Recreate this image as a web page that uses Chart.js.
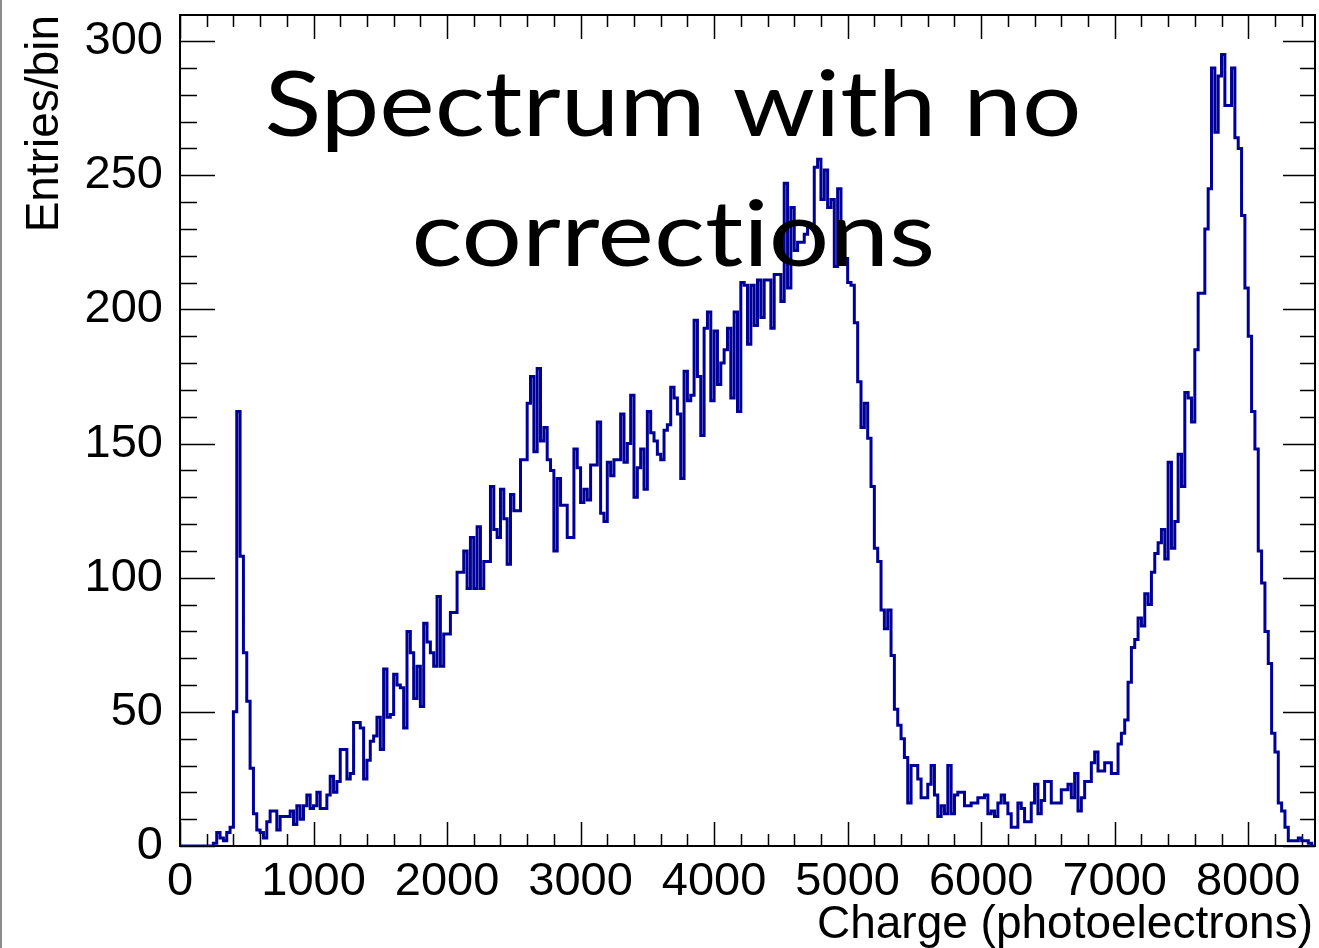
<!DOCTYPE html>
<html><head><meta charset="utf-8">
<script src="https://cdn.jsdelivr.net/npm/chart.js@4.4.1/dist/chart.umd.min.js"></script>
<style>html,body{margin:0;padding:0;background:#fff;overflow:hidden}canvas{display:block}</style>
</head><body>
<canvas id="c" width="1319" height="948"></canvas>
<script>
// ---- data (histogram, 25 p.e. bins from 0 to 8500) ----
const binLow = 0;
const binWidth = 25;
const counts = [
  0,0,0,0,0,0,0,0,0,0,
  1,5,3,2,5,7,50,162,108,72,
  54,29,12,6,5,3,9,13,13,6,
  11,11,11,13,8,15,10,15,19,14,
  15,20,14,14,19,26,20,24,36,36,
  25,27,46,46,44,25,32,39,41,48,
  36,66,48,49,64,60,59,44,80,72,
  55,67,52,83,76,72,67,93,67,79,
  79,87,87,102,102,110,96,115,96,119,
  96,106,106,134,118,115,133,122,105,131,
  125,125,144,144,165,175,147,178,151,156,
  144,140,110,137,127,127,115,115,148,141,
  128,133,129,142,142,158,124,121,143,138,
  144,144,161,143,150,168,130,141,148,133,
  162,154,151,146,144,155,157,171,167,161,
  137,177,166,168,196,175,153,193,199,166,
  192,172,180,185,193,167,199,162,210,209,
  187,209,194,211,197,211,211,193,213,213,
  203,247,208,238,222,225,225,228,231,231,
  253,256,241,252,238,241,216,245,223,219,
  210,209,195,173,156,165,152,134,111,106,
  88,81,88,71,51,45,40,33,16,30,
  30,25,18,18,23,30,19,11,15,12,
  30,12,19,20,20,15,15,16,16,18,
  18,19,12,13,11,16,19,16,12,7,
  7,16,14,9,9,16,23,12,17,24,
  24,16,16,16,21,21,23,18,27,13,
  18,24,24,31,35,28,28,31,31,27,
  27,38,42,47,61,74,77,85,82,94,
  90,102,109,113,118,107,143,111,121,146,
  134,169,167,158,185,206,206,230,245,290,
  266,287,295,276,276,290,264,260,235,208,
  190,162,148,110,98,80,68,42,35,16,
  13,7,2,2,2,3,2,2,1,0
];
const xTickValues = [0,1000,2000,3000,4000,5000,6000,7000,8000];
const xTickLabels = ['0','1000','2000','3000','4000','5000','6000','7000','8000'];
const yTickValues = [0,50,100,150,200,250,300];
const yTickLabels = ['0','50','100','150','200','250','300'];
const titleLines = ['Spectrum with no', 'corrections'];
const xTitle = 'Charge (photoelectrons)';
const yTitle = 'Entries/bin';
const xRange = [0, 8500];
const yRange = [0, 309.75];

// histogram outline points (bin low edges + closing edge)
const points = counts.map((c, i) => ({x: binLow + i * binWidth, y: c}));
points.push({x: binLow + counts.length * binWidth, y: counts[counts.length - 1]});

const SANS = '"Liberation Sans", Arial, Helvetica, sans-serif';
const TITLE_FONT = 'Lato, "Open Sans", sans-serif';

function drawFitted(ctx, text, left, right, baseline, capH) {
  ctx.save();
  try { ctx.textRendering = 'optimizeSpeed'; } catch (e) {}
  try { ctx.letterSpacing = '0.01px'; } catch (e) {}
  ctx.font = '100px ' + TITLE_FONT;
  const ref = ctx.measureText('H').actualBoundingBoxAscent || 72;
  const size = 100 * capH / ref;
  ctx.font = size.toFixed(2) + 'px ' + TITLE_FONT;
  const m = ctx.measureText(text);
  const w = m.actualBoundingBoxLeft + m.actualBoundingBoxRight;
  const sx = (right - left) / w;
  ctx.translate(left, baseline);
  ctx.scale(sx, 1);
  ctx.textAlign = 'left';
  ctx.textBaseline = 'alphabetic';
  ctx.fillStyle = '#000';
  ctx.fillText(text, m.actualBoundingBoxLeft, 0);
  ctx.restore();
}

const rootStyle = {
  id: 'rootStyle',
  beforeDatasetsDraw(chart) {
    const {ctx, chartArea: a, scales} = chart;
    const x = scales.x, y = scales.y;
    ctx.save();
    // left page edge
    ctx.strokeStyle = '#8c8c8c'; ctx.lineWidth = 2;
    ctx.beginPath(); ctx.moveTo(1, 0); ctx.lineTo(1, chart.height); ctx.stroke();
    // frame
    ctx.strokeStyle = '#000'; ctx.lineWidth = 2;
    ctx.strokeRect(a.left, a.top, a.right - a.left, a.bottom - a.top);
    // ticks
    ctx.lineWidth = 1.5;
    ctx.beginPath();
    for (let v = xRange[0]; v <= xRange[1]; v += 200) {
      const px = Math.round(x.getPixelForValue(v)) + 0.5;
      const L = (v % 1000 === 0) ? 24 : 12;
      ctx.moveTo(px, a.bottom); ctx.lineTo(px, a.bottom - L);
      ctx.moveTo(px, a.top); ctx.lineTo(px, a.top + L);
    }
    for (let v = 0; v <= 300; v += 10) {
      const py = Math.round(y.getPixelForValue(v)) + 0.5;
      const major = v % 50 === 0;
      ctx.moveTo(a.left, py); ctx.lineTo(a.left + (major ? 35 : 17), py);
      ctx.moveTo(a.right, py); ctx.lineTo(a.right - (major ? 32 : 15), py);
    }
    ctx.stroke();
    // axis titles
    ctx.fillStyle = '#000';
    ctx.font = '46px ' + SANS;
    ctx.textAlign = 'right'; ctx.textBaseline = 'alphabetic';
    ctx.fillText(xTitle, 1313, 938);
    ctx.save();
    ctx.translate(58, a.top);
    ctx.rotate(-Math.PI / 2);
    ctx.textAlign = 'right';
    ctx.fillText(yTitle, 0, 0);
    ctx.restore();
    ctx.restore();
  },
  afterDatasetsDraw(chart) {
    const ctx = chart.ctx;
    drawFitted(ctx, titleLines[0], 268, 1078, 136, 67);
    drawFitted(ctx, titleLines[1], 415, 932, 266, 67);
  }
};

function makeChart() {
  return new Chart(document.getElementById('c'), {
    type: 'line',
    data: {
      datasets: [{
        data: points,
        stepped: 'before',
        borderColor: '#000099',
        borderWidth: 3,
        pointRadius: 0,
        fill: false,
        tension: 0
      }]
    },
    options: {
      responsive: false,
      animation: false,
      devicePixelRatio: 1,
      layout: {padding: {top: 15, right: 4, left: 0, bottom: 0}},
      plugins: {legend: {display: false}, tooltip: {enabled: false}, title: {display: false}},
      scales: {
        x: {
          type: 'linear', min: xRange[0], max: xRange[1],
          grid: {display: false, drawTicks: false}, border: {display: false},
          afterBuildTicks: s => { s.ticks = xTickValues.map(v => ({value: v})); },
          afterFit: s => { s.height = 102; s.paddingLeft = 0; s.paddingRight = 0; },
          ticks: {
            autoSkip: false, maxRotation: 0, padding: 8, color: '#000',
            font: {family: SANS, size: 47},
            callback: (v, i) => xTickLabels[i]
          }
        },
        y: {
          type: 'linear', min: yRange[0], max: yRange[1],
          grid: {display: false, drawTicks: false}, border: {display: false},
          afterBuildTicks: s => { s.ticks = yTickValues.map(v => ({value: v})); },
          afterFit: s => { s.width = 180; s.paddingTop = 0; s.paddingBottom = 0; },
          ticks: {
            autoSkip: false, padding: 17, color: '#000',
            font: {family: SANS, size: 47},
            callback: (v, i) => yTickLabels[i]
          }
        }
      }
    },
    plugins: [rootStyle]
  });
}
const chart = makeChart();
if (document.fonts && document.fonts.load) {
  Promise.all([document.fonts.load('100px Lato'), document.fonts.load('46px "Liberation Sans"')])
    .then(() => chart.draw(), () => {});
}
</script>
</body></html>
